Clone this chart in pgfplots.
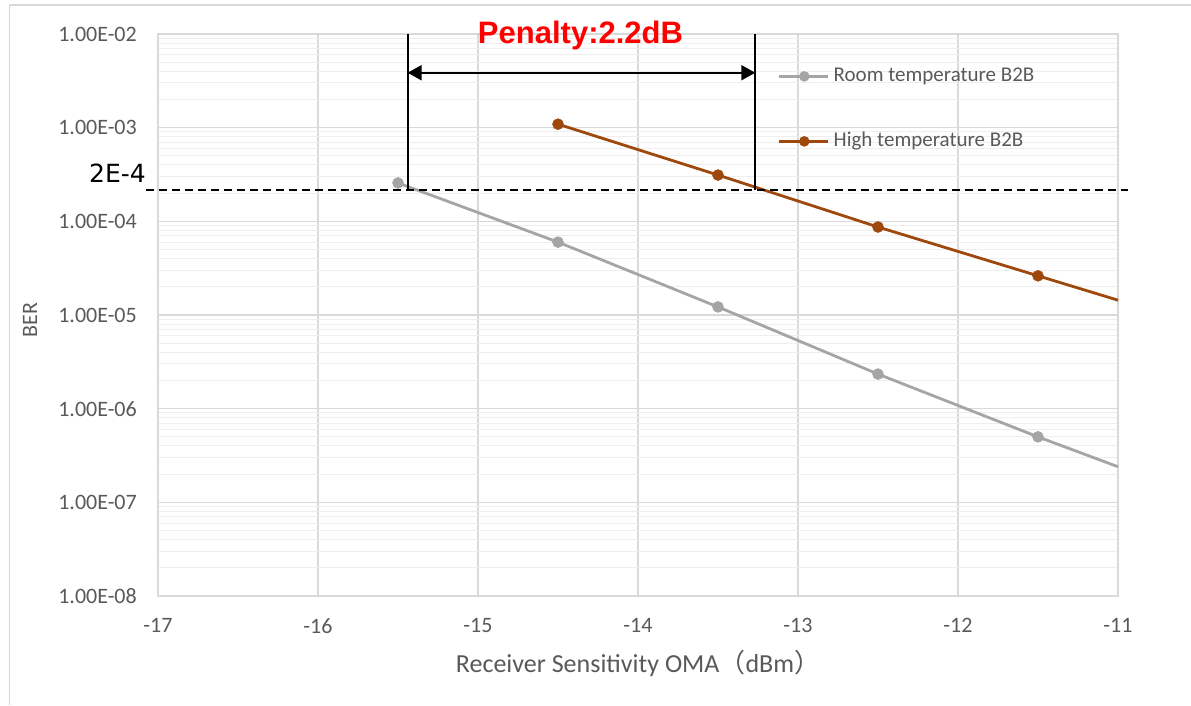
\documentclass[border=0pt]{standalone}
\usepackage{pgfplots}
\pgfplotsset{compat=1.18}
\usepackage{fontspec}
\setmainfont{Carlito}
\newfontfamily\cjk{Noto Sans CJK SC}
\newfontfamily\arialfont{Liberation Sans}
\newfontfamily\dejavu{DejaVu Sans}
\usetikzlibrary{arrows.meta}
\definecolor{roomc}{HTML}{A5A5A5}
\definecolor{highc}{HTML}{9E480E}
\definecolor{txt}{HTML}{595959}
\definecolor{gmaj}{HTML}{D9D9D9}
\definecolor{gmin}{HTML}{EEEEEE}

\begin{document}
\begin{tikzpicture}
\useasboundingbox (0pt,0pt) rectangle (1191pt,705pt);
\draw[gmaj, line width=1.2pt] (9.5pt,0pt) -- (9.5pt,700pt) -- (1191pt,700pt);
\begin{axis}[
  at={(158pt,109pt)}, anchor=south west,
  scale only axis, width=960pt, height=562pt,
  ymode=log, xmin=-17, xmax=-11, ymin=1e-8, ymax=1e-2,
  xtick={-17,-16,-15,-14,-13,-12,-11},
  xticklabels={-17,-16,-15,-14,-13,-12,-11},
  ytick={1e-8,1e-7,1e-6,1e-5,1e-4,1e-3,1e-2},
  yticklabels={1.00E-08,1.00E-07,1.00E-06,1.00E-05,1.00E-04,1.00E-03,1.00E-02},
  minor ytick={2e-8,3e-8,4e-8,5e-8,6e-8,7e-8,8e-8,9e-8,
               2e-7,3e-7,4e-7,5e-7,6e-7,7e-7,8e-7,9e-7,
               2e-6,3e-6,4e-6,5e-6,6e-6,7e-6,8e-6,9e-6,
               2e-5,3e-5,4e-5,5e-5,6e-5,7e-5,8e-5,9e-5,
               2e-4,3e-4,4e-4,5e-4,6e-4,7e-4,8e-4,9e-4,
               2e-3,3e-3,4e-3,5e-3,6e-3,7e-3,8e-3,9e-3},
  grid=both,
  major grid style={gmaj, line width=1.2pt},
  minor grid style={gmin, line width=1pt},
  axis line style={gmaj, line width=1.2pt},
  major tick length=0pt, minor tick length=0pt,
  tick label style={font=\fontsize{22}{24}\selectfont, text=txt, inner sep=0pt},
  yticklabel style={anchor=east, xshift=-21pt},
  xticklabel style={anchor=north, yshift=-22pt},
  xlabel={Receiver Sensitivity OMA{\cjk （}dBm{\cjk ）}},
  xlabel style={at={(axis description cs:0.5,0)}, anchor=base, yshift=-76pt, font=\fontsize{26}{28}\selectfont, text=txt, inner sep=0pt},
  clip=false,
  legend style={at={(rel axis cs:0.6455,0.941)}, anchor=north west, draw=none, fill=none,
    font=\fontsize{21}{23}\selectfont, text=txt, row sep=47pt, column sep=4pt, inner sep=0pt,
    nodes={inner sep=0pt, text height=14pt, text depth=4pt}},
  legend cell align=left,
  legend image code/.code={\draw[mark repeat=2,mark phase=2, mark size=5pt] plot coordinates {(0pt,0pt) (25pt,0pt) (49pt,0pt)};},
]
\addplot[roomc, line width=2.8pt, mark=*, mark size=5.5pt, mark options={solid, fill=roomc, line width=0.5pt}]
  coordinates {(-15.5,2.57e-4) (-14.5,6.0e-5) (-13.5,1.22e-5) (-12.5,2.34e-6) (-11.5,5.0e-7)};
\addlegendentry{Room temperature B2B}
\addplot[highc, line width=2.8pt, mark=*, mark size=5.5pt, mark options={solid, fill=highc, line width=0.5pt}]
  coordinates {(-14.5,1.09e-3) (-13.5,3.12e-4) (-12.5,8.7e-5) (-11.5,2.62e-5)};
\addlegendentry{High temperature B2B}
\addplot[roomc, line width=2.8pt, forget plot] coordinates {(-11.5,5.0e-7) (-11,2.4e-7)};
\addplot[highc, line width=2.8pt, forget plot] coordinates {(-11.5,2.62e-5) (-11,1.44e-5)};

\draw[black, line width=2pt] (axis cs:-15.44,1e-2) -- (axis cs:-15.44,2.16e-4);
\draw[black, line width=2pt] (axis cs:-13.267,1e-2) -- (axis cs:-13.267,2.16e-4);
\draw[black, line width=2pt, {Triangle[length=14pt,width=15pt]}-{Triangle[length=14pt,width=15pt]}]
  (axis cs:-15.44,3.86e-3) -- (axis cs:-13.267,3.86e-3);
\draw[black, line width=2pt, dash pattern=on 8pt off 5pt] (axis cs:-17.075,2.16e-4) -- (axis cs:-10.94,2.16e-4);
\node[anchor=base, text=red, font=\arialfont\bfseries\fontsize{31}{31}\selectfont, inner sep=0pt]
  at (rel axis cs:0.4401,1) [yshift=-9pt] {Penalty:2.2dB};
\node[anchor=base east, font=\dejavu\fontsize{25}{25}\selectfont, inner sep=0pt]
  at (rel axis cs:0,0.7349) [xshift=-12pt] {2E-4};
\node[xshift=-128pt, rotate=90, anchor=center, font=\fontsize{22}{24}\selectfont, text=txt, inner sep=0pt]
  at (rel axis cs:0,0.491) {BER};
\end{axis}
\end{tikzpicture}
\end{document}
